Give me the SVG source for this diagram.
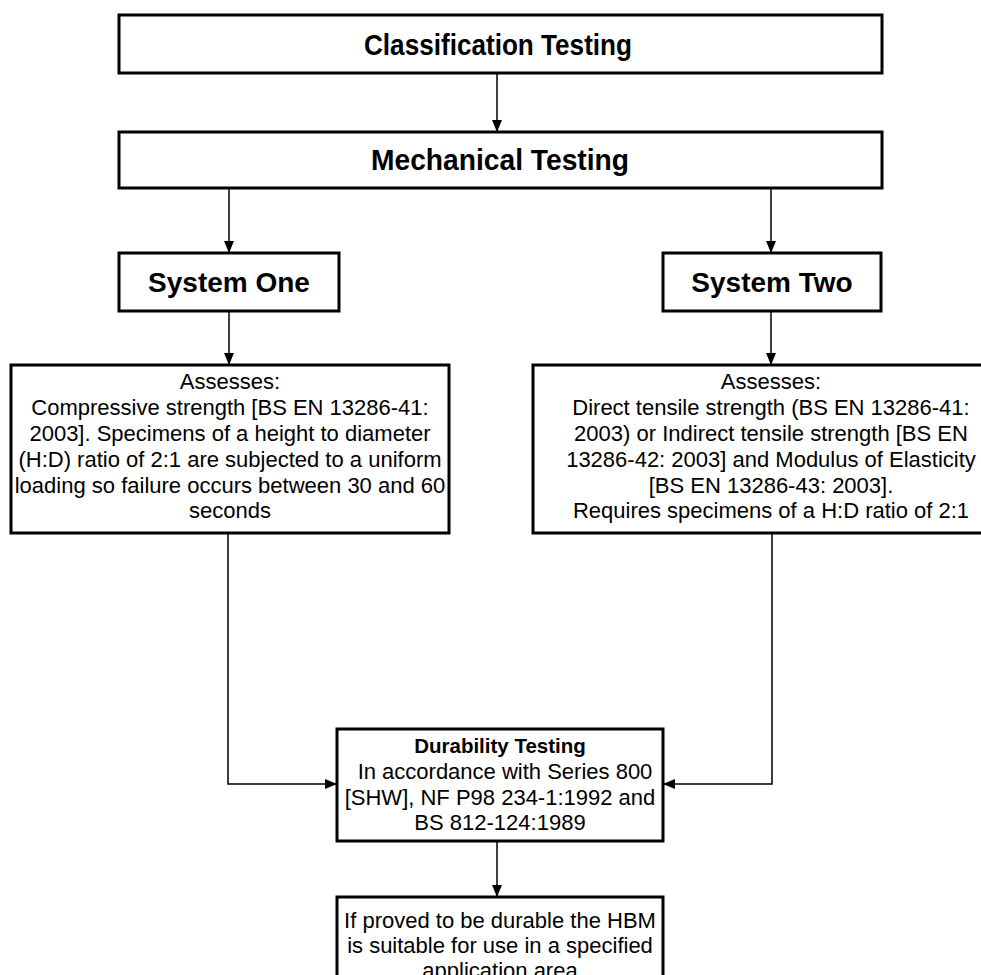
<svg xmlns="http://www.w3.org/2000/svg" width="981" height="975" viewBox="0 0 981 975">
<style>
.box{fill:#fff;stroke:#000;stroke-width:3}
.t{font-family:"Liberation Sans",Arial,sans-serif;text-anchor:middle;fill:#000}
.h{font-weight:bold;font-size:29px}
.s{font-weight:bold;font-size:28px}
.b{font-size:22px}
.db{font-weight:bold;font-size:20.5px}
.c{fill:none;stroke:#000;stroke-width:1.5}
</style>
<defs>
<marker id="ah" markerWidth="12" markerHeight="10" refX="12" refY="5" orient="auto" markerUnits="userSpaceOnUse">
<path d="M0,0 L12,5 L0,10 Z" fill="#000"/>
</marker>
</defs>
<rect width="981" height="975" fill="#fff"/>
<g id="connectors">
<path class="c" d="M497,73 V132" marker-end="url(#ah)"/>
<path class="c" d="M229,188 V253" marker-end="url(#ah)"/>
<path class="c" d="M771,188 V253" marker-end="url(#ah)"/>
<path class="c" d="M229,311 V365" marker-end="url(#ah)"/>
<path class="c" d="M771,311 V365" marker-end="url(#ah)"/>
<path class="c" d="M228,533 V784 H337" marker-end="url(#ah)"/>
<path class="c" d="M772,533 V784 H663" marker-end="url(#ah)"/>
<path class="c" d="M497,841 V897" marker-end="url(#ah)"/>
</g>
<g id="classification">
<rect class="box" x="119" y="15" width="763" height="58"/>
<text class="t h" x="498" y="55" textLength="268" lengthAdjust="spacingAndGlyphs">Classification Testing</text>
</g>
<g id="mechanical">
<rect class="box" x="119" y="132" width="763" height="56"/>
<text class="t h" x="500" y="170" textLength="258" lengthAdjust="spacingAndGlyphs">Mechanical Testing</text>
</g>
<g id="system-one">
<rect class="box" x="119" y="253" width="220" height="58"/>
<text class="t s" x="229" y="292">System One</text>
</g>
<g id="system-two">
<rect class="box" x="663" y="253" width="218" height="58"/>
<text class="t s" x="772" y="292">System Two</text>
</g>
<g id="assess-one">
<rect class="box" x="11" y="365" width="438" height="168"/>
<text class="t b" x="230"><tspan x="230" y="389">Assesses:</tspan><tspan x="230" y="415">Compressive strength [BS EN 13286-41:</tspan><tspan x="230" y="441">2003].  Specimens of a height to diameter</tspan><tspan x="230" y="467">(H:D) ratio of 2:1 are subjected to a uniform</tspan><tspan x="230" y="493">loading so failure occurs between 30 and 60</tspan><tspan x="230" y="518">seconds</tspan></text>
</g>
<g id="assess-two">
<rect class="box" x="533" y="365" width="480" height="168"/>
<text class="t b" x="771"><tspan x="771" y="389">Assesses:</tspan><tspan x="771" y="415">Direct tensile strength (BS EN 13286-41:</tspan><tspan x="771" y="441">2003) or Indirect tensile strength [BS EN</tspan><tspan x="771" y="467">13286-42: 2003] and Modulus of Elasticity</tspan><tspan x="771" y="493">[BS EN 13286-43: 2003].</tspan><tspan x="771" y="518">Requires specimens of a H:D ratio of 2:1</tspan></text>
</g>
<g id="durability">
<rect class="box" x="337" y="729" width="326" height="112"/>
<text class="t db" x="500" y="753">Durability Testing</text>
<text class="t b" x="500"><tspan x="505" y="779">In accordance with Series 800</tspan><tspan x="500" y="805">[SHW], NF P98 234-1:1992 and</tspan><tspan x="500" y="830">BS 812-124:1989</tspan></text>
</g>
<g id="result">
<rect class="box" x="337" y="897" width="326" height="100"/>
<text class="t b" x="500"><tspan x="500" y="928">If proved to be durable the HBM</tspan><tspan x="500" y="953">is suitable for use in a specified</tspan><tspan x="500" y="978">application area</tspan></text>
</g>
</svg>
